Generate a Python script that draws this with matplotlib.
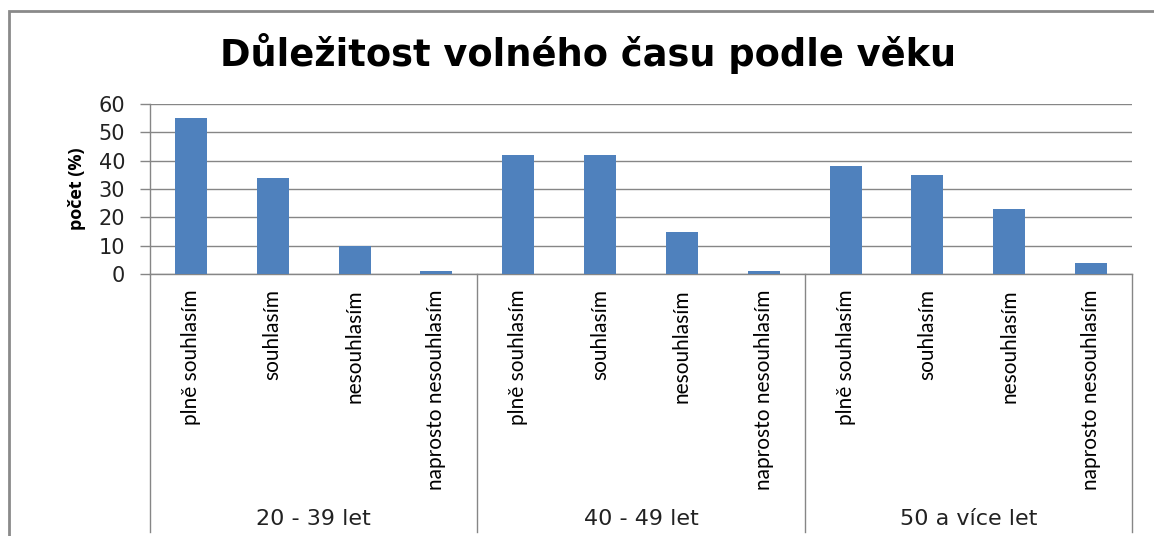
import matplotlib.pyplot as plt
import matplotlib.transforms as mtransforms
from matplotlib.patches import Rectangle

# data
skupiny = ['20 - 39 let', '40 - 49 let', '50 a více let']
odpovedi = ['plně souhlasím', 'souhlasím', 'nesouhlasím', 'naprosto nesouhlasím']
hodnoty_20_39 = [55, 34, 10, 1]
hodnoty_40_49 = [42, 42, 15, 1]
hodnoty_50 = [38, 35, 23, 4]

hodnoty = hodnoty_20_39 + hodnoty_40_49 + hodnoty_50
popisky = odpovedi * len(skupiny)
x = list(range(len(hodnoty)))

sede = '#868686'
modra = '#4F81BD'

fig = plt.figure(figsize=(11.54, 5.36), dpi=100)
ax = fig.add_axes([150/1154, 1-274/536, (1132-150)/1154, 170/536])

ax.bar(x, hodnoty, width=0.39, color=modra, zorder=3)

ax.set_xlim(-0.5, len(hodnoty)-0.5)
ax.set_ylim(0, 60)
ax.set_yticks(range(0, 61, 10))
ax.grid(axis='y', color=sede, lw=1, zorder=0)
ax.tick_params(axis='y', length=7, color=sede, width=1, pad=11, labelsize=15, labelcolor='#222222')
ax.set_xticks(x)
ax.set_xticklabels(popisky, rotation=90, va='top', ha='center',
                   family=['Lato', 'DejaVu Sans'], fontsize=15)
ax.tick_params(axis='x', length=0, pad=11)

for s in ['top', 'right']:
    ax.spines[s].set_visible(False)
for s in ['left', 'bottom']:
    ax.spines[s].set_color(sede)
    ax.spines[s].set_linewidth(1)

ax.set_ylabel('počet (%)', fontweight='bold', fontsize=13, family='Open Sans', labelpad=9)

# skupiny pod osou
trans = mtransforms.blended_transform_factory(ax.transData, ax.transAxes)
n = len(odpovedi)
for i in range(len(skupiny)+1):
    ax.plot([i*n-0.5, i*n-0.5], [0, -1.52], color=sede, lw=1, transform=trans, clip_on=False)
for i, g in enumerate(skupiny):
    ax.text(i*n + (n-1)/2, -1.44, g, transform=trans, ha='center', va='center',
            fontsize=16, color='#222222')

fig.text(0.51, 1-53/536, 'Důležitost volného času podle věku', ha='center', va='center',
         fontsize=26.5, fontweight='bold', family='DejaVu Sans')

fig.patches.append(Rectangle((9/1154, -0.1), 1.2, 1-11/536+0.1, transform=fig.transFigure,
                             fill=False, edgecolor='#8a8a8a', lw=2))

plt.savefig('out.png', dpi=100)
